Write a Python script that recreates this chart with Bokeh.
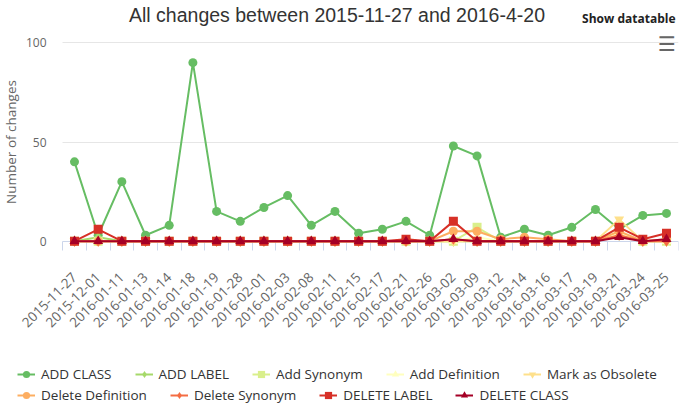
from math import pi
from bokeh.plotting import figure
from bokeh.models import (FixedTicker, Label, Legend, LegendItem, Range1d,
                          ColumnDataSource, LinearAxis)
from bokeh.embed import file_html
from bokeh.resources import INLINE

# ---------------- data ----------------
dates = ["2015-11-27", "2015-12-01", "2016-01-11", "2016-01-13", "2016-01-14",
         "2016-01-18", "2016-01-19", "2016-01-28", "2016-02-01", "2016-02-03",
         "2016-02-08", "2016-02-11", "2016-02-15", "2016-02-17", "2016-02-21",
         "2016-02-26", "2016-03-02", "2016-03-09", "2016-03-12", "2016-03-14",
         "2016-03-16", "2016-03-17", "2016-03-19", "2016-03-21", "2016-03-24",
         "2016-03-25"]

add_class = [40, 3, 30, 3, 8, 90, 15, 10, 17, 23, 8, 15, 4, 6, 10, 3,
             48, 43, 2, 6, 3, 7, 16, 6, 13, 14]
add_label = [0, 2, 0, 0, 0, 0, 0, 0, 0, 0, 0, 0, 0, 0, 0, 0,
             0, 0, 0, 0, 0, 0, 0, 3, 0, 0]
add_synonym = [0, 0, 0, 0, 0, 0, 0, 0, 0, 0, 0, 0, 0, 0, 0, 0,
               0, 7, 0, 0, 0, 0, 0, 3, 0, 0]
add_definition = [0, 0, 0, 0, 0, 0, 0, 0, 0, 0, 0, 0, 0, 0, 0, 0,
                  0, 2, 0, 0, 0, 0, 0, 4, 0, 0]
mark_obsolete = [0, 0, 0, 0, 0, 0, 0, 0, 0, 0, 0, 0, 0, 0, 0, 0,
                 0, 0, 0, 0, 0, 0, 0, 11, 0, 0]
delete_definition = [0, 0, 0, 0, 0, 0, 0, 0, 0, 0, 0, 0, 0, 0, 0, 0,
                     5, 5, 1, 2, 1, 0, 0, 5, 0, 1]
delete_synonym = [0, 0, 0, 0, 0, 0, 0, 0, 0, 0, 0, 0, 0, 0, 0, 0,
                  1, 0, 0, 0, 0, 0, 0, 3, 0, 0]
delete_label = [0, 6, 0, 0, 0, 0, 0, 0, 0, 0, 0, 0, 0, 0, 1, 0,
                10, 0, 0, 0, 0, 0, 0, 7, 1, 4]
delete_class = [0, 0, 0, 0, 0, 0, 0, 0, 0, 0, 0, 0, 0, 0, 0, 0,
                1, 0, 0, 0, 0, 0, 0, 2, 0, 1]

series_names = ["ADD CLASS", "ADD LABEL", "Add Synonym", "Add Definition",
                "Mark as Obsolete", "Delete Definition", "Delete Synonym",
                "DELETE LABEL", "DELETE CLASS"]
series_values = [add_class, add_label, add_synonym, add_definition,
                 mark_obsolete, delete_definition, delete_synonym,
                 delete_label, delete_class]
y_ticks = [0, 50, 100]

title_text = "All changes between 2015-11-27 and 2016-4-20"
y_title = "Number of changes"

# ---------------- styles ----------------
colors = ["#66bd63", "#a6d96a", "#d9ef8b", "#ffffbf", "#fee08b",
          "#fdae61", "#f46d43", "#d73027", "#a50026"]
markers = ["circle", "diamond", "square", "triangle", "inverted_triangle",
           "circle", "diamond", "square", "triangle"]
msizes = [9, 11, 9, 10, 10, 9, 11, 9, 10]

FONT = "Open Sans"
W, H = 682, 405

n = len(dates)
x_idx = list(range(n))
PLOT_LO, PLOT_HI = -0.507, n - 1 + 0.507     # edges of the plotting area

p = figure(width=W, height=H, output_backend="svg", toolbar_location=None,
           title=None,
           x_range=Range1d(-3.125, PLOT_HI),
           y_range=Range1d(-82.81, 121.32),
           min_border_left=0, min_border_right=4, min_border_top=0,
           min_border_bottom=0)
p.outline_line_color = None
p.background_fill_color = "white"
p.border_fill_color = "white"

# x axis, drawn at y = 0
xa = p.xaxis[0]
xa.fixed_location = 0
xa.bounds = (PLOT_LO, PLOT_HI)
xa.level = "underlay"
xa.ticker = FixedTicker(ticks=x_idx, minor_ticks=[i - 0.5 for i in range(n + 1)])
xa.major_label_overrides = {i: d for i, d in enumerate(dates)}
xa.major_label_orientation = pi / 4
xa.major_tick_in = 0
xa.major_tick_out = 0
xa.minor_tick_in = 0
xa.minor_tick_out = 9
xa.minor_tick_line_color = "#ccd6eb"
xa.axis_line_color = "#ccd6eb"
xa.major_label_text_font = FONT
xa.major_label_text_font_size = "13.5px"
xa.major_label_text_color = "#666666"
xa.major_label_standoff = 25

# y axis, drawn at the left edge of the plotting area
ya = p.yaxis[0]
ya.fixed_location = PLOT_LO
ya.ticker = FixedTicker(ticks=y_ticks)
ya.bounds = (0, 100)
ya.axis_line_color = None
ya.major_tick_line_color = None
ya.minor_tick_line_color = None
ya.major_tick_out = 0
ya.major_tick_in = 0
ya.major_label_standoff = 16
ya.major_label_text_font = FONT
ya.major_label_text_font_size = "12px"
ya.major_label_text_color = "#666666"
ya.axis_label = y_title
ya.axis_label_standoff = 3
ya.axis_label_text_font = FONT
ya.axis_label_text_font_size = "13.5px"
ya.axis_label_text_font_style = "normal"
ya.axis_label_text_color = "#666666"

p.xgrid.visible = False
p.ygrid.visible = False

# horizontal grid lines limited to the plotting area
for v in y_ticks[1:]:
    g = LinearAxis(fixed_location=v, bounds=(PLOT_LO, PLOT_HI),
                   ticker=FixedTicker(ticks=[]), axis_line_color="#e6e6e6",
                   major_tick_line_color=None, minor_tick_line_color=None,
                   major_label_text_alpha=0)
    g.level = "underlay"
    p.add_layout(g, "below")

# series
items = []
for name, vals, col, mk, ms in zip(series_names, series_values, colors, markers, msizes):
    src = ColumnDataSource(dict(x=x_idx, y=vals))
    lr = p.line("x", "y", source=src, line_color=col, line_width=2)
    sr = p.scatter("x", "y", source=src, marker=mk, size=ms,
                   fill_color=col, line_color=col, line_width=0)
    items.append(LegendItem(label=name, renderers=[lr, sr]))


def make_legend(its, loc):
    return Legend(items=its, orientation="horizontal", location=loc,
                  glyph_width=18, glyph_height=20, label_height=20,
                  label_standoff=6, spacing=23, padding=0, margin=0,
                  border_line_color=None, background_fill_alpha=0,
                  label_text_font=FONT, label_text_font_size="13.5px",
                  label_text_color="#333333")


p.add_layout(make_legend(items[:5], (17, H - 384)), "center")
p.add_layout(make_legend(items[5:], (17, H - 405)), "center")

# texts (screen units measured from the plot area's bottom-left = canvas bottom-left)
p.add_layout(Label(x=336.5, y=H - 14, x_units="screen", y_units="screen",
                   text=title_text, text_align="center", text_baseline="alphabetic",
                   text_font="Liberation Sans", text_font_size="19.5px",
                   text_color="#333333"))
p.add_layout(Label(x=675, y=H - 18, x_units="screen", y_units="screen",
                   text="Show datatable", text_align="right", text_baseline="alphabetic",
                   text_font=FONT, text_font_size="12px", text_font_style="bold",
                   text_color="#222222"))
p.add_layout(Label(x=666.5, y=H - 43.5, x_units="screen", y_units="screen",
                   text="\u2630", text_align="center", text_baseline="middle",
                   text_font="DejaVu Sans", text_font_size="20px",
                   text_font_style="bold", text_color="#666666"))

open("out.html", "w").write(file_html(p, INLINE))
